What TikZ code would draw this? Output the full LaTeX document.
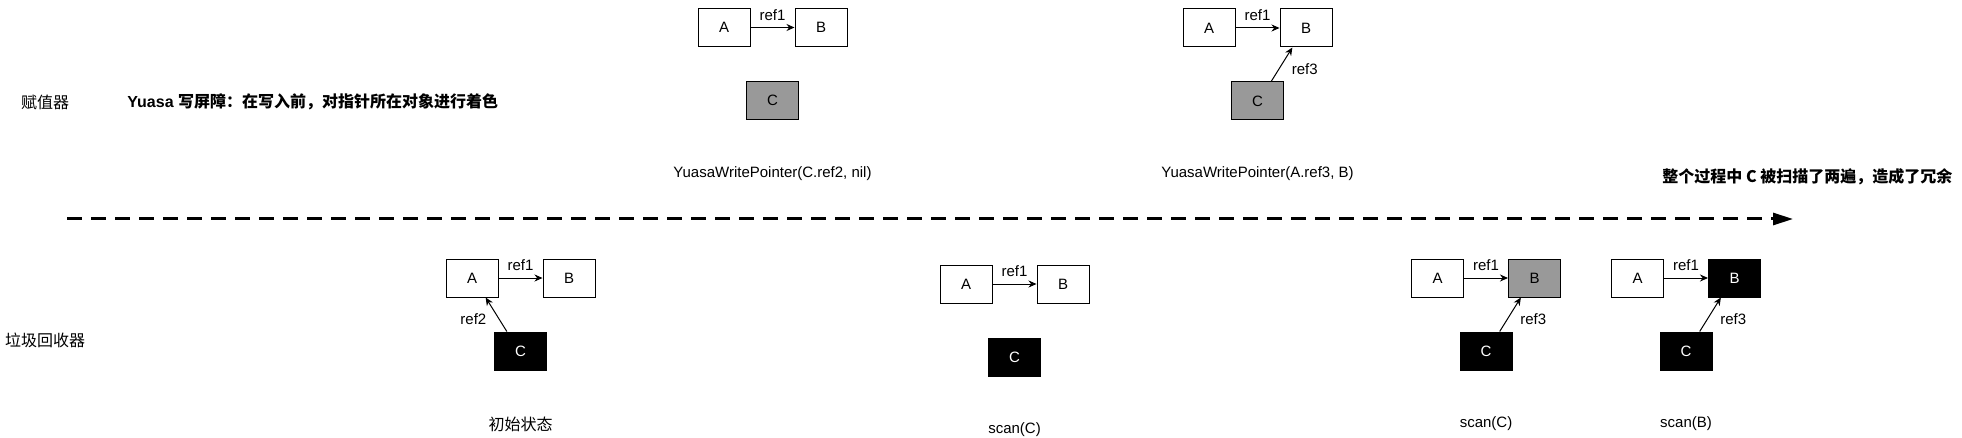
\documentclass[tikz,border=0pt]{standalone}
\usepackage{fontspec}
\setmainfont{Liberation Sans}
\newfontfamily\cjk{Noto Sans CJK SC}
\usetikzlibrary{arrows.meta, positioning, calc}

\begin{document}
\begin{tikzpicture}[x=0.5pt, y=-0.5pt, >={Stealth[length=4pt, width=3.5pt]},
    font=\fontsize{7.5}{9}\selectfont,
    obj/.style={draw, line width=0.5pt, minimum width=26pt, minimum height=19pt, inner sep=0pt},
    grey/.style={obj, fill=black!40},
    blk/.style={obj, fill=black, text=white},
    ref/.style={->, line width=0.5pt},
    lbl/.style={inner sep=0pt},
    zh/.style={lbl, font=\fontsize{8}{10}\selectfont\cjk}]
    \useasboundingbox (0,0) rectangle (1962,438);

    % row titles
    \node[zh] (asg) at (45,102) {赋值器};
    \node[zh] (gc) at (45,340) {垃圾回收器};
    \node[lbl, anchor=west, font=\fontsize{8}{10}\selectfont\bfseries] (rule) at (127,102)
        {Yuasa {\cjk 写屏障：在写入前，对指针所在对象进行着色}};
    \node[zh, anchor=west, font=\fontsize{8}{10}\selectfont\cjk\bfseries] (note) at (1662,177)
        {整个过程中 C 被扫描了两遍，造成了冗余};

    % time line
    \coordinate (tl) at (67,219);
    \coordinate (tr) at (1793,219);
    \draw[line width=1.5pt, dash pattern=on 7.5pt off 4.5pt,
        -{Triangle[length=10pt, width=6pt]}] (tl) -- (tr);

    % mutator: step 1
    \node[obj] (a1) at (724,27.5) {A};
    \node[obj, right=22pt of a1] (b1) {B};
    \coordinate (m1) at ($(a1.south)!0.5!(b1.south)$);
    \node[grey, below=17pt of m1] (c1) {C};
    \draw[ref] (a1) -- node[above] {ref1} (b1);
    \node[lbl, below=23pt of c1] (l1) {YuasaWritePointer(C.ref2, nil)};

    % mutator: step 2
    \node[obj] (a2) at (1209,28) {A};
    \node[obj, right=22pt of a2] (b2) {B};
    \coordinate (m2) at ($(a2.south)!0.5!(b2.south)$);
    \node[grey, below=17pt of m2] (c2) {C};
    \draw[ref] (a2) -- node[above] {ref1} (b2);
    \draw[ref] (c2.55) -- node[pos=0.35, right=3pt] {ref3} (b2.-125);
    \node[lbl, below=23pt of c2] (l2) {YuasaWritePointer(A.ref3, B)};

    % collector: initial state
    \node[obj] (a3) at (472,278) {A};
    \node[obj, right=22pt of a3] (b3) {B};
    \coordinate (m3) at ($(a3.south)!0.5!(b3.south)$);
    \node[blk, below=17pt of m3] (c3) {C};
    \draw[ref] (a3) -- node[above] {ref1} (b3);
    \draw[ref] (c3.125) -- node[pos=0.35, left=3pt] {ref2} (a3.-55);
    \node[zh, below=23pt of c3] (l3) {初始状态};

    % collector: scan C
    \node[obj] (a4) at (966,284) {A};
    \node[obj, right=22pt of a4] (b4) {B};
    \coordinate (m4) at ($(a4.south)!0.5!(b4.south)$);
    \node[blk, below=17pt of m4] (c4) {C};
    \draw[ref] (a4) -- node[above] {ref1} (b4);
    \node[lbl, below=23pt of c4] (l4) {scan(C)};

    % collector: scan C again
    \node[obj] (a5) at (1437.5,278) {A};
    \node[grey, right=22pt of a5] (b5) {B};
    \coordinate (m5) at ($(a5.south)!0.5!(b5.south)$);
    \node[blk, below=17pt of m5] (c5) {C};
    \draw[ref] (a5) -- node[above] {ref1} (b5);
    \draw[ref] (c5.55) -- node[pos=0.35, right=3pt] {ref3} (b5.-125);
    \node[lbl, below=23pt of c5] (l5) {scan(C)};

    % collector: scan B
    \node[obj] (a6) at (1637.5,278) {A};
    \node[blk, right=22pt of a6] (b6) {B};
    \coordinate (m6) at ($(a6.south)!0.5!(b6.south)$);
    \node[blk, below=17pt of m6] (c6) {C};
    \draw[ref] (a6) -- node[above] {ref1} (b6);
    \draw[ref] (c6.55) -- node[pos=0.35, right=3pt] {ref3} (b6.-125);
    \node[lbl, below=23pt of c6] (l6) {scan(B)};
\end{tikzpicture}
\end{document}
